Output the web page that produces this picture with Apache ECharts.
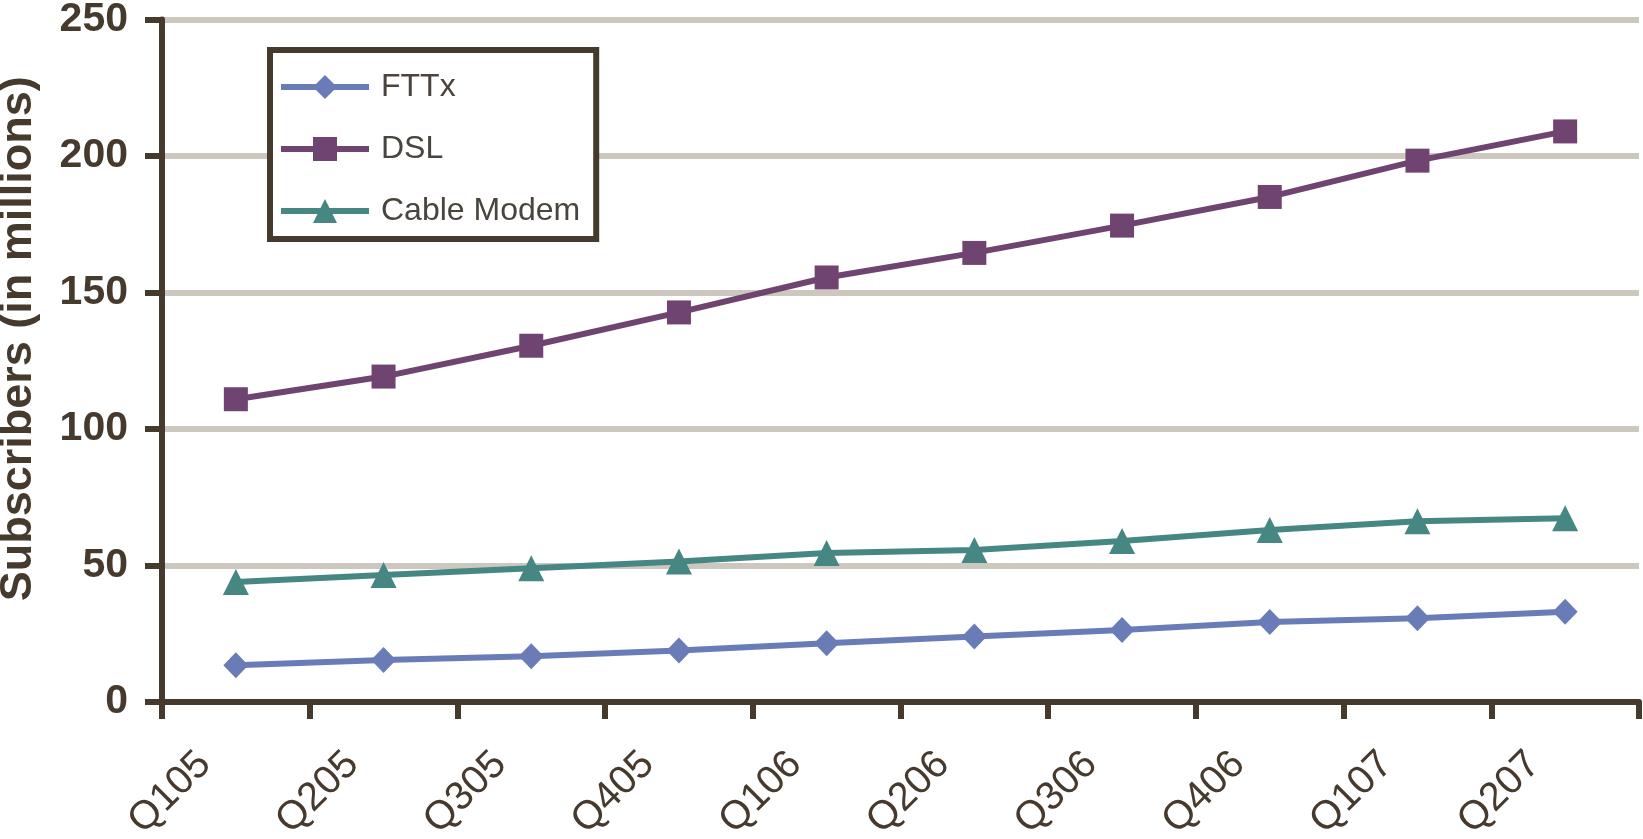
<!DOCTYPE html>
<html>
<head>
<meta charset="utf-8">
<script src="https://cdn.jsdelivr.net/npm/echarts@6/dist/echarts.min.js"></script>
<style>
  html, body { margin: 0; padding: 0; background: #ffffff; }
  #chart { width: 1643px; height: 839px; }
</style>
</head>
<body>
<div id="chart"></div>
<script>
// Quarterly broadband subscribers, in millions
const quarters = ['Q105', 'Q205', 'Q305', 'Q405', 'Q106', 'Q206', 'Q306', 'Q406', 'Q107', 'Q207'];
const fttx  = [13.5, 15.4, 16.8, 18.9, 21.5, 24.0, 26.4, 29.3, 30.7, 33.1];
const dsl   = [110.9, 119.2, 130.5, 142.7, 155.5, 164.5, 174.5, 185.0, 198.3, 209.0];
const cable = [44.0, 46.5, 49.0, 51.5, 54.6, 55.7, 59.0, 63.0, 66.2, 67.3];
const yTicks = [0, 50, 100, 150, 200, 250];

const FONT = '"Liberation Sans", Arial, sans-serif';
const INK = '#463a2e';

const chart = echarts.init(document.getElementById('chart'), null, { renderer: 'canvas' });

function lineSeries(name, data, color, symbol, size) {
  return {
    name: name,
    type: 'line',
    data: data,
    symbol: symbol,
    symbolSize: size,
    showAllSymbol: true,
    lineStyle: { color: color, width: 6 },
    itemStyle: { color: color },
    emphasis: { disabled: true },
    animation: false
  };
}

chart.setOption({
  backgroundColor: '#ffffff',
  animation: false,
  grid: {
    left: 162, right: 4, top: 19.5, bottom: 137,
    containLabel: false,
    outerBoundsMode: 'none'
  },
  legend: {
    orient: 'vertical',
    left: 270,
    top: 50,
    padding: [21, 16, 12, 8],
    backgroundColor: '#ffffff',
    borderColor: INK,
    borderWidth: 6,
    itemWidth: 88,
    itemHeight: 30,
    itemGap: 30,
    lineStyle: { width: 6 },
    textStyle: {
      fontFamily: FONT,
      fontSize: 32,
      color: '#4a443e',
      lineHeight: 31,
      padding: [0, 0, 0, 7]
    },
    data: ['FTTx', 'DSL', 'Cable Modem']
  },
  xAxis: {
    type: 'category',
    data: quarters,
    boundaryGap: true,
    axisLine: { lineStyle: { color: INK, width: 6 } },
    axisTick: { show: true, alignWithLabel: false, length: 17, lineStyle: { color: INK, width: 6 } },
    axisLabel: {
      rotate: 45,
      interval: 0,
      margin: 25,
      padding: [0, 44, 0, 0],
      fontFamily: FONT,
      fontSize: 40,
      color: INK
    },
    splitLine: { show: false }
  },
  yAxis: {
    type: 'value',
    min: yTicks[0],
    max: yTicks[yTicks.length - 1],
    interval: yTicks[1] - yTicks[0],
    name: 'Subscribers (in millions)',
    nameLocation: 'middle',
    nameGap: 121,
    nameTextStyle: {
      fontFamily: FONT,
      fontSize: 45,
      fontWeight: 'bold',
      color: INK,
      padding: [0, 0, 0, 44]
    },
    axisLine: { show: true, lineStyle: { color: INK, width: 6 } },
    axisTick: { show: true, length: 17, lineStyle: { color: INK, width: 6 } },
    axisLabel: {
      margin: 34,
      fontFamily: FONT,
      fontSize: 41,
      fontWeight: 'bold',
      color: INK
    },
    splitLine: { show: true, lineStyle: { color: '#ccc8c0', width: 6 } }
  },
  series: [
    lineSeries('FTTx', fttx, '#6a7cb7', 'diamond', [25, 26]),
    lineSeries('DSL', dsl, '#6f4470', 'rect', 24),
    lineSeries('Cable Modem', cable, '#478783', 'triangle', 26)
  ]
});
</script>
</body>
</html>
